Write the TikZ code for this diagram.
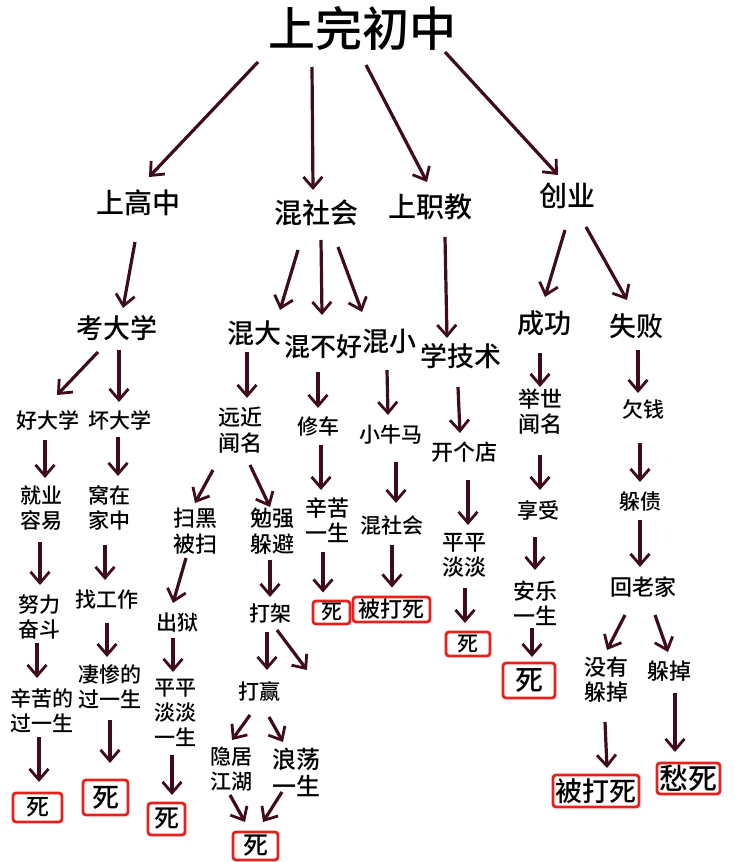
\documentclass[tikz,border=0pt]{standalone}
\usepackage{fontspec}
\setmainfont{Noto Sans CJK SC Medium}
\usetikzlibrary{arrows.meta,calc}
\definecolor{arrc}{RGB}{62,12,28}
\definecolor{boxred}{RGB}{232,32,28}
\tikzset{
  arr/.style={draw=arrc, line width=3.2pt, -{Straight Barb[length=11pt,width=19pt,line width=2.8pt]}},
  lbl/.style={inner sep=0pt, align=center, font=\fontsize{21}{25}\selectfont},
  mid/.style={inner sep=0pt, align=center, font=\fontsize{27}{32}\selectfont},
  deadbox/.style={draw=boxred, line width=2.8pt, rounded corners=3pt, inner sep=0pt, align=center}
}
\begin{document}
\begin{tikzpicture}[x=1pt,y=-1pt]
\useasboundingbox[fill=white] (0,0) rectangle (735,862);
% level 0
\node[inner sep=0pt, font=\fontsize{47}{52}\selectfont] (t) at (362,28) {上完初中};
% level 1
\node[mid, font=\fontsize{28}{32}\selectfont] (gz) at (138,203) {上高中};
\node[mid, font=\fontsize{28}{32}\selectfont] (hsh) at (316,213) {混社会};
\node[mid, font=\fontsize{28}{32}\selectfont] (zj) at (430,207) {上职教};
\node[mid, font=\fontsize{28}{32}\selectfont] (cy) at (567,196) {创业};
% level 2
\node[mid] (kdx) at (117,328) {考大学};
\node[mid] (hd) at (254,333) {混大};
\node[mid, font=\fontsize{26}{30}\selectfont] (hbh) at (323,347) {混不好};
\node[mid] (hx) at (389,341) {混小};
\node[mid] (xjs) at (461,356) {学技术};
\node[mid] (cg) at (544,323) {成功};
\node[mid] (sb) at (636,326) {失败};
% level 3+
\node[lbl] (hdx) at (48,420) {好大学};
\node[lbl] (hudx) at (120,420) {坏大学};
\node[lbl] (jy) at (41,508) {就业\\容易};
\node[lbl] (wz) at (109,508) {窝在\\家中};
\node[lbl] (nl) at (40,617) {努力\\奋斗};
\node[lbl] (zgz) at (107,600) {找工作};
\node[lbl] (xk1) at (42,711) {辛苦的\\过一生};
\node[lbl] (qc) at (110,687) {凄惨的\\过一生};
\node[lbl, font=\fontsize{22}{26}\selectfont] (yj) at (240,430) {远近\\闻名};
\node[lbl, font=\fontsize{22}{26}\selectfont] (sh) at (195,531) {扫黑\\被扫};
\node[lbl, font=\fontsize{22}{26}\selectfont] (mq) at (272,531) {勉强\\躲避};
\node[lbl] (cy2) at (177,623) {出狱};
\node[lbl] (pp1) at (175,713) {平平\\淡淡\\一生};
\node[lbl] (dj) at (270,614) {打架};
\node[lbl] (dy) at (259,691) {打赢};
\node[lbl] (yjjh) at (231,769) {隐居\\江湖};
\node[lbl, font=\fontsize{24}{27}\selectfont] (ld) at (296,772) {浪荡\\一生};
\node[lbl] (xc) at (318,426) {修车};
\node[lbl, font=\fontsize{22}{25}\selectfont] (xk2) at (327,520) {辛苦\\一生};
\node[lbl] (xnm) at (391,435) {小牛马};
\node[lbl] (hsh2) at (392,526) {混社会};
\node[lbl, font=\fontsize{22}{26}\selectfont] (kgd) at (464,452) {开个店};
\node[lbl, font=\fontsize{22}{25}\selectfont] (ppdd) at (464,555) {平平\\淡淡};
\node[lbl, font=\fontsize{22}{25}\selectfont] (jsw) at (540,412) {举世\\闻名};
\node[lbl] (xs) at (538,510) {享受};
\node[lbl, font=\fontsize{22}{25}\selectfont] (al) at (535,603) {安乐\\一生};
\node[lbl] (qq) at (643,409) {欠钱};
\node[lbl] (zz) at (640,502) {躲债};
\node[lbl, font=\fontsize{22}{26}\selectfont] (hlj) at (643,587) {回老家};
\node[lbl, font=\fontsize{22}{25}\selectfont] (my) at (606,680) {没有\\躲掉};
\node[lbl, font=\fontsize{22}{26}\selectfont] (dd) at (669,671) {躲掉};
% death boxes
\node[deadbox, minimum width=49pt, minimum height=29pt, font=\fontsize{23}{26}\selectfont] (d1) at (37.5,807.5) {死};
\node[deadbox, minimum width=45pt, minimum height=35pt, font=\fontsize{27}{30}\selectfont] (d2) at (105.5,797.5) {死};
\node[deadbox, minimum width=37pt, minimum height=32pt, font=\fontsize{25}{28}\selectfont] (d3) at (166.5,819) {死};
\node[deadbox, minimum width=45pt, minimum height=28pt, font=\fontsize{25}{28}\selectfont] (d4) at (255.5,846) {死};
\node[deadbox, minimum width=37pt, minimum height=23pt, font=\fontsize{21}{24}\selectfont] (d5) at (331.5,612.5) {死};
\node[deadbox, minimum width=77pt, minimum height=25pt, font=\fontsize{22}{25}\selectfont] (bds1) at (391.5,609.5) {被打死};
\node[deadbox, minimum width=44pt, minimum height=24pt, font=\fontsize{21}{24}\selectfont] (d6) at (468,644) {死};
\node[deadbox, minimum width=52pt, minimum height=35pt, font=\fontsize{28}{31}\selectfont] (d7) at (529,680.5) {死};
\node[deadbox, minimum width=86pt, minimum height=32pt, font=\fontsize{27}{30}\selectfont] (bds2) at (596,791) {被打死};
\node[deadbox, minimum width=63pt, minimum height=31pt, font=\fontsize{29}{32}\selectfont] (cs) at (688.5,778.5) {愁死};
\coordinate (ghost) at (307,670);
% arrows
\draw[arr] ($(t)+(-104,34)$) -- ($(gz)+(11,-26)$);
\draw[arr] ($(t)+(-50,39)$) -- ($(hsh)+(-3,-23)$);
\draw[arr] ($(t)+(4,37)$) -- ($(zj)+(-3,-25)$);
\draw[arr] ($(t)+(83,24)$) -- ($(cy)+(-9,-21)$);
\draw[arr] ($(gz)+(-3,39)$) -- ($(kdx)+(6,-20)$);
\draw[arr] ($(hsh)+(-18,37)$) -- ($(hd)+(26,-23)$);
\draw[arr] ($(hsh)+(5,27)$) -- ($(hbh)+(-1,-32)$);
\draw[arr] ($(hsh)+(22,34)$) -- ($(hx)+(-27,-29)$);
\draw[arr] ($(zj)+(15,30)$) -- ($(xjs)+(-14,-18)$);
\draw[arr] ($(cy)+(-2,34)$) -- ($(cg)+(1,-26)$);
\draw[arr] ($(cy)+(19,31)$) -- ($(sb)+(-9,-26)$);
\draw[arr] ($(kdx)+(-19,24)$) -- ($(hdx)+(9,-25)$);
\draw[arr] ($(kdx)+(2,22)$) -- ($(hudx)+(-1,-18)$);
\draw[arr] ($(hd)+(-7,19)$) -- ($(yj)+(7,-32)$);
\draw[arr] ($(hbh)+(-5,25)$) -- ($(xc)+(0,-18)$);
\draw[arr] ($(hx)+(-2,29)$) -- ($(xnm)+(-3,-20)$);
\draw[arr] ($(xjs)+(-3,31)$) -- ($(kgd)+(-4,-19)$);
\draw[arr] ($(cg)+(-4,30)$) -- ($(jsw)+(0,-25)$);
\draw[arr] ($(sb)+(2,24)$) -- ($(qq)+(-5,-16)$);
\draw[arr] ($(hdx)+(-3,20)$) -- ($(jy)+(4,-30)$);
\draw[arr] ($(hudx)+(-2,17)$) -- ($(wz)+(9,-32)$);
\draw[arr] ($(yj)+(-27,40)$) -- ($(sh)+(0,-28)$);
\draw[arr] ($(yj)+(10,35)$) -- ($(mq)+(-2,-24)$);
\draw[arr] ($(xc)+(3,19)$) -- ($(xk2)+(-6,-30)$);
\draw[arr] ($(xnm)+(5,27)$) -- ($(hsh2)+(4,-23)$);
\draw[arr] ($(kgd)+(4,28)$) -- ($(ppdd)+(4,-30)$);
\draw[arr] ($(jsw)+(0,43)$) -- ($(xs)+(2,-20)$);
\draw[arr] ($(qq)+(-3,34)$) -- ($(zz)+(0,-20)$);
\draw[arr] ($(jy)+(-1,34)$) -- ($(nl)+(0,-32)$);
\draw[arr] ($(wz)+(-4,37)$) -- ($(zgz)+(-2,-20)$);
\draw[arr] ($(sh)+(-9,27)$) -- ($(cy2)+(-4,-20)$);
\draw[arr] ($(mq)+(-2,29)$) -- ($(dj)+(0,-17)$);
\draw[arr] ($(xk2)+(-4,32)$) -- ($(d5)+(-8.5,-20)$);
\draw[arr] ($(hsh2)+(0,19)$) -- ($(bds1)+(0.5,-22)$);
\draw[arr] ($(ppdd)+(1,33)$) -- ($(d6)+(-3,-21)$);
\draw[arr] ($(xs)+(-3,27)$) -- ($(al)+(0,-33)$);
\draw[arr] ($(zz)+(0,18)$) -- ($(hlj)+(-3,-20)$);
\draw[arr] ($(nl)+(-3,26)$) -- ($(xk1)+(-5,-33)$);
\draw[arr] ($(zgz)+(0,23)$) -- ($(qc)+(-3,-30)$);
\draw[arr] ($(cy2)+(-4,15)$) -- ($(pp1)+(-2,-41)$);
\draw[arr] ($(dj)+(-3,18)$) -- ($(dy)+(8,-21)$);
\draw[arr] ($(dj)+(7,16)$) -- (ghost);
\draw[arr] ($(al)+(-3,25)$) -- ($(d7)+(3,-23.5)$);
\draw[arr] ($(hlj)+(-18,28)$) -- ($(my)+(1,-30)$);
\draw[arr] ($(hlj)+(12,28)$) -- ($(dd)+(-1,-19)$);
\draw[arr] ($(xk1)+(-3,26)$) -- ($(d1)+(1.5,-25.5)$);
\draw[arr] ($(qc)+(0,33)$) -- ($(d2)+(4.5,-34.5)$);
\draw[arr] ($(pp1)+(-3,42)$) -- ($(d3)+(5.5,-24)$);
\draw[arr] ($(dy)+(-9,24)$) -- ($(yjjh)+(1,-29)$);
\draw[arr] ($(dy)+(10,26)$) -- ($(ld)+(-13,-30)$);
\draw[arr] ($(yjjh)+(-1,26)$) -- ($(d4)+(-10.5,-24)$);
\draw[arr] ($(ld)+(-14,20)$) -- ($(d4)+(7.5,-24)$);
\draw[arr] ($(my)+(-1,42)$) -- ($(bds2)+(11,-23)$);
\draw[arr] ($(dd)+(6,22)$) -- ($(cs)+(-13.5,-26.5)$);
\end{tikzpicture}
\end{document}
